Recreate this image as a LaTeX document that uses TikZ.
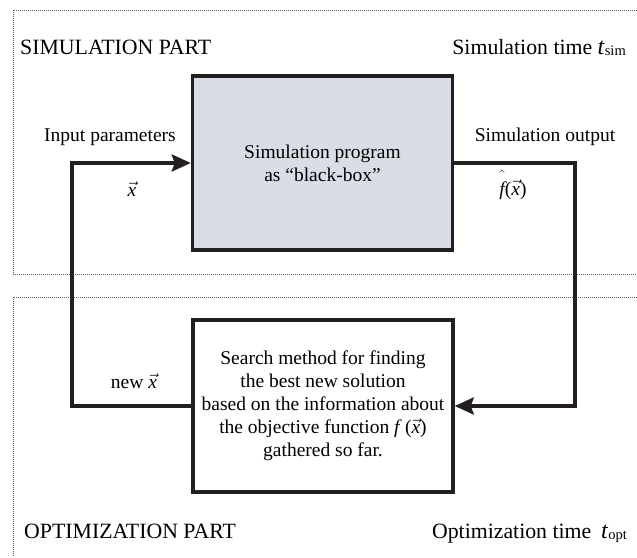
\documentclass[tikz,border=0pt]{standalone}
\usepackage{fontspec}
\setmainfont{Liberation Serif}
\usetikzlibrary{arrows.meta}

\definecolor{ink}{RGB}{35,31,32}
\definecolor{boxfill}{RGB}{217,222,230}
\definecolor{framegray}{RGB}{95,95,95}

% italic x with a vector arrow
\newcommand{\vx}{\ensuremath{\vec{\textit{x}}}}
% italic f with a hat set well above it
\newcommand{\fhat}{\ensuremath{\hat{\textit{f}\rule{0pt}{1.02em}}}}
% time symbol with an upright subscript
\newcommand{\timesym}[1]{{\fontsize{24}{24}\selectfont\textit{t}}\raisebox{-1pt}{\fontsize{14.5}{14.5}\selectfont #1}}

\begin{document}
\begin{tikzpicture}[x=1pt,y=-1pt,
  partframe/.style={draw=framegray, line width=0.9pt, dash pattern=on 1pt off 1pt},
  block/.style={draw=ink, line width=3.5pt, align=center, inner sep=0pt,
    font=\fontsize{19.5}{23}\selectfont},
  conn/.style={draw=ink, line width=3.5pt},
  tip/.style={-{Stealth[length=19pt,width=17pt,inset=3pt]}},
  lbl/.style={font=\fontsize{19.5}{23}\selectfont, inner sep=0pt},
  partlbl/.style={font=\fontsize{21.8}{26}\selectfont, inner sep=0pt}
]
\useasboundingbox (0,0) rectangle (637,557);

% the two dotted part frames
\draw[partframe] (637,10) -- (13,10) -- (13,274) -- (637,274);
\draw[partframe] (637,297) -- (13,297) -- (13,557);

% blocks
\node[block, fill=boxfill, minimum width=260pt, minimum height=174pt] (sim) at (322.5,163)
  {Simulation program\\as “black-box”};
\node[block, minimum width=260pt, minimum height=172pt] (opt) at (323,406)
  {Search method for finding\\the best new solution\\based on the information about\\the objective function \textit{f}\,(\vx)\\gathered so far.};

% loop connectors
\coordinate (lcorner) at (72,163);
\coordinate (rcorner) at (575,406);
\draw[conn, tip] (opt.west) -| (lcorner) -- (sim.west);
\draw[conn, tip] (sim.east) -| (rcorner) -- (opt.east);

% connector labels
\node[lbl] (inlbl) at (110,137) {Input parameters};
\node[lbl] (xin) at (132,189) {\vx};
\node[lbl] (outlbl) at (545,137) {Simulation output};
\node[lbl, anchor=base] (fout) at (513,195) {\fhat(\vx)};
\node[lbl] (xnew) at (134,381) {new \vx};

% part titles
\node[partlbl, anchor=base west] (simpart) at (20,54) {SIMULATION PART};
\node[partlbl, anchor=base east] (simtime) at (626,54) {Simulation time \timesym{sim}};
\node[partlbl, anchor=base west] (optpart) at (24,538) {OPTIMIZATION PART};
\node[partlbl, anchor=base east] (opttime) at (627,538) {Optimization time\hspace{0.45em}\timesym{opt}};
\end{tikzpicture}
\end{document}
